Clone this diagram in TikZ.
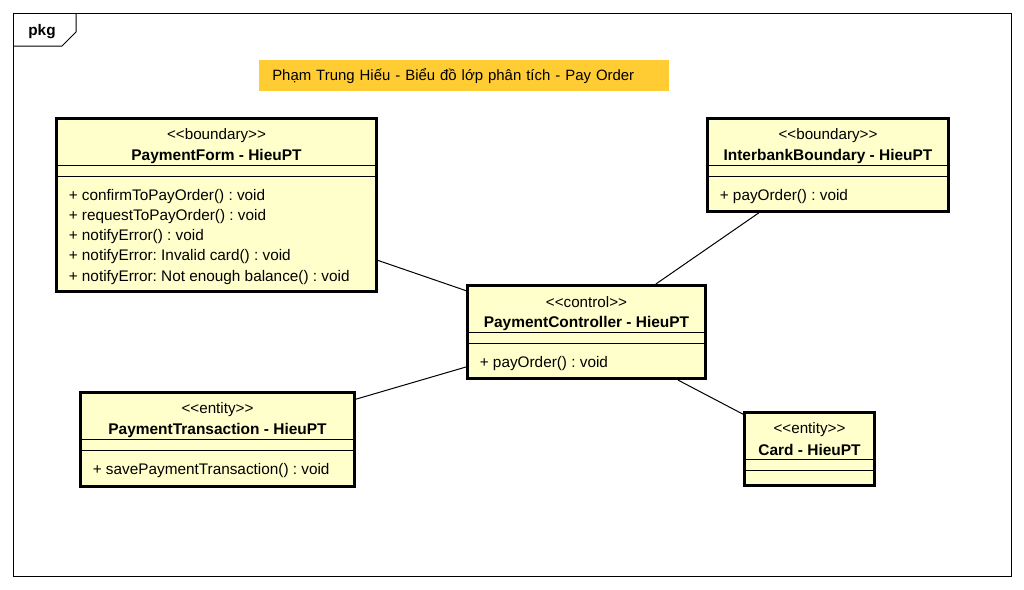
\documentclass[tikz,border=0pt]{standalone}
\usepackage{fontspec}
\setmainfont{Liberation Sans}
\usetikzlibrary{calc}

\definecolor{classfill}{HTML}{FFFFCC}
\definecolor{notefill}{HTML}{FFCC33}

\newcommand{\stereoL}{\mbox{<}\mbox{<}}
\newcommand{\stereoR}{\mbox{>}\mbox{>}}

\tikzset{
  classbox/.style={draw, line width=2.25pt, fill=classfill, inner sep=0pt},
  sepline/.style={line width=0.75pt},
  assoc/.style={line width=0.75pt},
  stereo/.style={font=\fontsize{11.4}{13}\selectfont, inner sep=0pt},
  cname/.style={font=\fontsize{11.6}{13}\selectfont\bfseries, inner sep=0pt},
  member/.style={font=\fontsize{11.5}{13}\selectfont, anchor=west, inner sep=0pt},
}

\begin{document}
\frenchspacing
\begin{tikzpicture}[x=0.75pt, y=-0.75pt]
\useasboundingbox (0,0) rectangle (1024,589);

      % package frame
      \draw[line width=0.75pt] (13,13) rectangle (1011,576);
      \draw[line width=0.75pt] (76,13) -- (76,32) -- (62,46) -- (13,46);
      \node[font=\fontsize{11.5}{13}\selectfont\bfseries, inner sep=0pt] (pkg) at (42,31.5) {pkg};

      % title note
      \node[fill=notefill, anchor=north west, minimum height=23.25pt, inner xsep=9.75pt,
            text width=288pt, align=left, font=\fontsize{11.2}{13}\selectfont] (title) at (259,60)
            {Phạm Trung Hiếu - Biểu đồ lớp phân tích - Pay Order};

      % classes
      \node[classbox, minimum width=240pt, minimum height=129.75pt] (pf) at (216.5,205) {};
      \node[classbox, minimum width=180.75pt, minimum height=69.75pt] (ib) at (828,165) {};
      \node[classbox, minimum width=178.5pt, minimum height=69.75pt] (ctrl) at (586.5,332) {};
      \node[classbox, minimum width=205.5pt, minimum height=70.5pt] (tr) at (217.5,439.5) {};
      \node[classbox, minimum width=97.5pt, minimum height=54.75pt] (card) at (809.5,449) {};

      % compartments
      \foreach \c in {pf,ib,ctrl,tr,card} {
        \draw[sepline] ($(\c.north west)+(0,48.5)$) -- ($(\c.north east)+(0,48.5)$);
        \draw[sepline] ($(\c.north west)+(0,59.5)$) -- ($(\c.north east)+(0,59.5)$);
      }

      \node[stereo] (pf-st) at ($(pf.north)+(0,18.5)$) {\stereoL boundary\stereoR};
      \node[cname] (pf-name) at ($(pf.north)+(0,39.5)$) {PaymentForm - HieuPT};
      \node[member] (pf-m1) at ($(pf.north west)+(13.5,80)$) {+ confirmToPayOrder() : void};
      \node[member] (pf-m2) at ($(pf.north west)+(13.5,100)$) {+ requestToPayOrder() : void};
      \node[member] (pf-m3) at ($(pf.north west)+(13.5,120)$) {+ notifyError() : void};
      \node[member] (pf-m4) at ($(pf.north west)+(13.5,140)$) {+ notifyError: Invalid card() : void};
      \node[member] (pf-m5) at ($(pf.north west)+(13.5,160.5)$) {+ notifyError: Not enough balance() : void};

      \node[stereo] (ib-st) at ($(ib.north)+(0,18.5)$) {\stereoL boundary\stereoR};
      \node[cname] (ib-name) at ($(ib.north)+(0,39)$) {InterbankBoundary - HieuPT};
      \node[member] (ib-m1) at ($(ib.north west)+(13.5,80)$) {+ payOrder() : void};

      \node[stereo] (ctrl-st) at ($(ctrl.north)+(0,18.5)$) {\stereoL control\stereoR};
      \node[cname] (ctrl-name) at ($(ctrl.north)+(0,39)$) {PaymentController - HieuPT};
      \node[member] (ctrl-m1) at ($(ctrl.north west)+(13.5,80)$) {+ payOrder() : void};

      \node[stereo] (tr-st) at ($(tr.north)+(0,18.5)$) {\stereoL entity\stereoR};
      \node[cname] (tr-name) at ($(tr.north)+(0,39)$) {PaymentTransaction - HieuPT};
      \node[member] (tr-m1) at ($(tr.north west)+(13.5,80)$) {+ savePaymentTransaction() : void};

      \node[stereo] (card-st) at ($(card.north)+(0,18.5)$) {\stereoL entity\stereoR};
      \node[cname] (card-name) at ($(card.north)+(0,39)$) {Card - HieuPT};

      % associations
      \draw[assoc] (pf) -- (ctrl);
      \draw[assoc] (ib) -- (ctrl);
      \draw[assoc] (tr) -- (ctrl);
      \draw[assoc] (card) -- (ctrl);
\end{tikzpicture}
\end{document}
